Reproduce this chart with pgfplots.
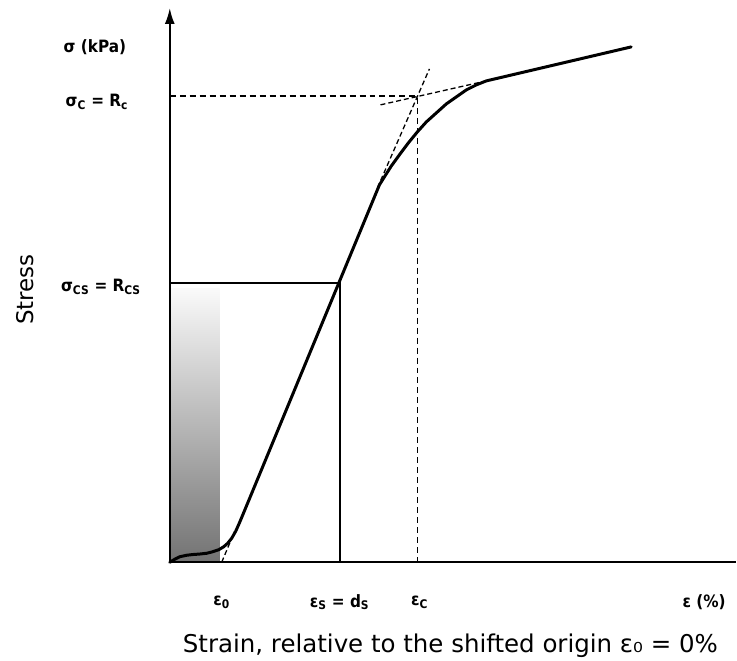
\documentclass[border=0pt]{standalone}
\usepackage{pgfplots}
\pgfplotsset{compat=1.18}
\usepackage{fontspec}
\setmainfont{DejaVu Sans}
\newfontfamily\cond{DejaVu Sans Condensed}
\usetikzlibrary{arrows.meta}
\begin{document}
\begin{tikzpicture}
\begin{axis}[x=1pt,y=1pt,xmin=-170,xmax=567,ymin=-96,ymax=563,hide axis,clip=false]
% bounding frame (invisible)
\path (axis cs:-170,-96) rectangle (axis cs:567,563);
% gradient block
\addplot[draw=none, top color=black!2, bottom color=black!55] coordinates {(0,0) (50,0) (50,274) (0,274)} -- cycle;
% rectangle
\addplot[black, line width=2pt, mark=none] coordinates {(0,280) (170,280) (170,0)};
% dashed guides
\addplot[black, line width=1.5pt, dash pattern=on 6pt off 4pt, mark=none] coordinates {(0,467) (248,467) (248,0)};
\addplot[black, line width=1.3pt, dash pattern=on 5pt off 3pt, mark=none] coordinates {(52,0) (65,31)};
\addplot[black, line width=1.3pt, dash pattern=on 5pt off 3pt, mark=none] coordinates {(208,375) (260,494)};
\addplot[black, line width=1.3pt, dash pattern=on 5pt off 3pt, mark=none] coordinates {(211,458) (317,482)};
% stress-strain curve
\addplot[black, line width=3pt, mark=none, line join=round, line cap=round] coordinates {
(0,0) (5,3) (10,5.5) (17,7) (23,7.7) (30,8.2) (37,9) (43,10.5) (49,12.5) (54,15.5) (58,19) (62,24) (66,31) (70,40) (75,52)
(210,378) (215,386) (222,397) (230,408) (239,420) (248,431) (257,441) (267,450) (277,459) (287,466) (297,473) (307,478) (317,482) (462,516)};
% axes
\addplot[black, line width=2pt, mark=none, -{Latex[length=16pt,width=10pt]}] coordinates {(0,0) (0,555)};
\addplot[black, line width=2pt, mark=none] coordinates {(0,0) (567,0)};
% labels
\tikzset{lab/.style={font=\cond\bfseries\fontsize{17}{19}\selectfont}}
\node[lab] at (axis cs:-75,516) {σ (kPa)};
\node[lab] at (axis cs:-73,461) {σ\textsubscript{C} = R\textsubscript{c}};
\node[lab] at (axis cs:-69,276) {σ\textsubscript{CS} = R\textsubscript{CS}};
\node[font=\fontsize{23}{26}\selectfont, rotate=90] at (axis cs:-145,273) {Stress};
\node[lab] at (axis cs:52,-40) {ε\textsubscript{0}};
\node[lab] at (axis cs:170,-40) {ε\textsubscript{S} = d\textsubscript{S}};
\node[lab] at (axis cs:250,-40) {ε\textsubscript{C}};
\node[lab] at (axis cs:535,-40) {ε (\%)};
\node[font=\fontsize{24.5}{28}\selectfont, anchor=base] at (axis cs:281,-90) {Strain, relative to the shifted origin ε₀ = 0\%};
\end{axis}
\end{tikzpicture}
\end{document}
